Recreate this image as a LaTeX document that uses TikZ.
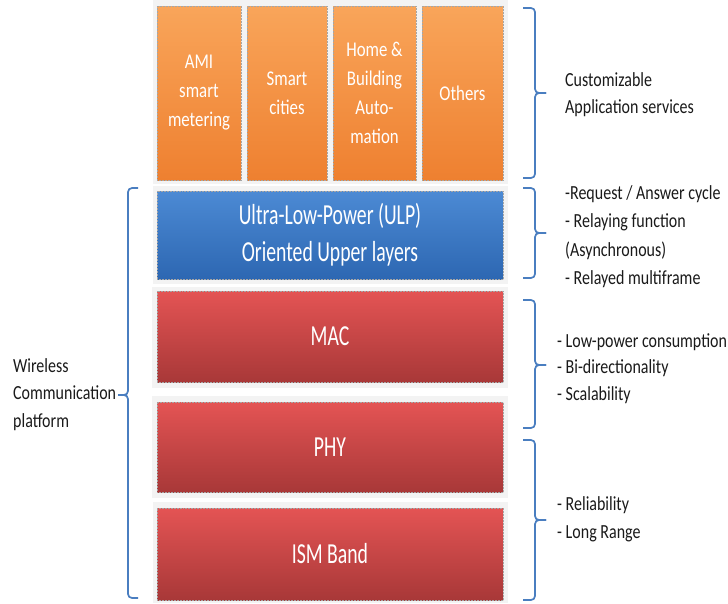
\documentclass[tikz,border=0pt]{standalone}
\usepackage{fontspec}
\setmainfont{Carlito}
\newfontfamily\boxfont{Carlito}[FakeStretch=0.68]
\newfontfamily\orfont{Carlito}[FakeStretch=0.8]
\newfontfamily\sidefont{Carlito}[FakeStretch=0.8]
\definecolor{orTop}{HTML}{F9A55A}
\definecolor{orBot}{HTML}{EE8030}
\definecolor{blTop}{HTML}{4C8AD4}
\definecolor{blBot}{HTML}{2D67B2}
\definecolor{rdTop}{HTML}{E45454}
\definecolor{rdBot}{HTML}{A83838}
\definecolor{braceblue}{HTML}{4A7EC0}
\definecolor{panelgray}{HTML}{F3F3F3}
\definecolor{sidetext}{HTML}{1A1A1A}
\begin{document}
\begin{tikzpicture}[x=1pt,y=-1pt,
  panel/.style={fill=panelgray, draw=none},
  layer/.style={draw=black!35, densely dotted, line width=0.5pt, text=white,
    align=center, inner sep=0pt},
  orangebox/.style={layer, top color=orTop, bottom color=orBot,
    minimum height=174pt, font=\fontsize{21}{29}\orfont},
  bluebox/.style={layer, top color=blTop, bottom color=blBot,
    minimum width=346pt, font=\fontsize{29}{37}\boxfont},
  redbox/.style={layer, top color=rdTop, bottom color=rdBot,
    minimum width=346pt, font=\fontsize{29}{37}\boxfont},
  brace/.style={draw=braceblue, line width=1.7pt, rounded corners=4pt},
  side/.style={anchor=west, align=left, inner sep=0pt, text=sidetext}
]
\useasboundingbox[fill=white] (0,0) rectangle (728,603);

% light panels behind the layers
\fill[panel] (153,0) rectangle (508,184);
\fill[panel] (153,186) rectangle (508,284);
\fill[panel] (152,287) rectangle (508,388);
\fill[panel] (152,396) rectangle (508,498);
\fill[panel] (153,502) rectangle (508,603);

% application boxes
\node[orangebox, minimum width=84pt] (ami)   at (199,93)   {AMI\\smart\\metering};
\node[orangebox, minimum width=80pt] (city)  at (287,93)   {Smart\\cities};
\node[orangebox, minimum width=83pt] (home)  at (374.5,93) {Home \&\\Building\\Auto-\\mation};
\node[orangebox, minimum width=81pt] (other) at (462.5,93) {Others};

% layers
\node[bluebox, minimum height=88pt] (ulp) at (330,235) {Ultra-Low-Power (ULP)\\Oriented Upper layers};
\node[redbox, minimum height=91pt] (mac) at (330,336.5) {MAC};
\node[redbox, minimum height=90pt] (phy) at (330,447) {PHY};
\node[redbox, minimum height=92pt] (ism) at (330,554) {ISM Band};

% right braces
\draw[brace] (523,8) -- (535,8) -- (535,93) -- (546,93);
\draw[brace] (546,93) -- (535,93) -- (535,178) -- (523,178);
\draw[brace] (523,188) -- (535,188) -- (535,233) -- (546,233);
\draw[brace] (546,233) -- (535,233) -- (535,278) -- (523,278);
\draw[brace] (523,300) -- (535,300) -- (535,365) -- (546,365);
\draw[brace] (546,365) -- (535,365) -- (535,428) -- (523,428);
\draw[brace] (523,440) -- (535,440) -- (535,520) -- (546,520);
\draw[brace] (546,520) -- (535,520) -- (535,600) -- (523,600);
% left brace
\draw[brace] (138,188) -- (128,188) -- (128,395) -- (118,395);
\draw[brace] (118,395) -- (128,395) -- (128,598) -- (138,598);

% side texts
\node[side, font=\fontsize{20}{27}\sidefont] (app) at (565,94.5) {Customizable\\Application services};
\node[side, font=\fontsize{20}{28.5}\sidefont] (upp) at (565,236.5) {-Request / Answer cycle\\- Relaying function\\(Asynchronous)\\- Relayed multiframe};
\node[side, font=\fontsize{20}{26.5}\sidefont] (macf) at (557,368.5) {- Low-power consumption\\- Bi-directionality\\- Scalability};
\node[side, font=\fontsize{20}{28}\sidefont] (phyf) at (557,519) {- Reliability\\- Long Range};
\node[side, font=\fontsize{20}{27.5}\sidefont] (wcp) at (13,394.5) {Wireless\\Communication\\platform};
\end{tikzpicture}
\end{document}
